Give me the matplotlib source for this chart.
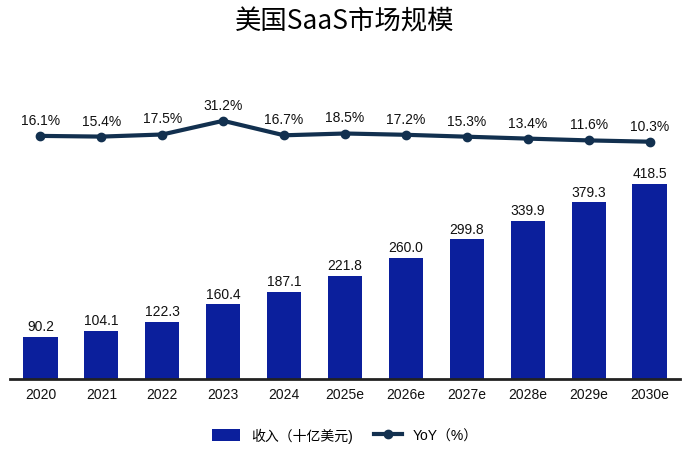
import matplotlib
matplotlib.use('Agg')
import matplotlib.pyplot as plt
import numpy as np

plt.rcParams['font.family'] = ['Liberation Sans', 'Noto Sans CJK SC', 'DejaVu Sans']

years = ['2020', '2021', '2022', '2023', '2024', '2025e', '2026e',
         '2027e', '2028e', '2029e', '2030e']
revenue = [90.2, 104.1, 122.3, 160.4, 187.1, 221.8, 260.0, 299.8, 339.9, 379.3, 418.5]
yoy = [16.1, 15.4, 17.5, 31.2, 16.7, 18.5, 17.2, 15.3, 13.4, 11.6, 10.3]

bar_color = '#0B1F9C'
line_color = '#12304F'

fig = plt.figure(figsize=(6.9, 4.56), dpi=100)
ax = fig.add_axes([10/690, 1 - 380/456, 670/690, 280/456])
x = np.arange(len(years))

bars = ax.bar(x, revenue, width=0.56, color=bar_color, label='收入（十亿美元)', zorder=2)
for xi, v in zip(x, revenue):
    ax.text(xi, v + 8, f'{v:.1f}', ha='center', va='bottom', fontsize=10, color='#111111')

ax.set_xlim(-0.5, len(years) - 0.5)
ax.set_ylim(0, 601)
ax.set_xticks(x)
ax.set_xticklabels(years, fontsize=10, color='#111111')
ax.tick_params(axis='x', length=0, pad=6)
ax.set_yticks([])
for s in ['top', 'right', 'left']:
    ax.spines[s].set_visible(False)
ax.spines['bottom'].set_color('#222222')
ax.spines['bottom'].set_linewidth(2)

ax2 = ax.twinx()
line, = ax2.plot(x, yoy, color=line_color, linewidth=3, marker='o', markersize=6,
                 label='YoY（%）', zorder=3)
for xi, v in zip(x, yoy):
    ax2.text(xi, v + 9, f'{v:.1f}%', ha='center', va='bottom', fontsize=10, color='#111111')
ax2.set_ylim(-227, 53)
ax2.set_yticks([])
for s in ['top', 'right', 'left', 'bottom']:
    ax2.spines[s].set_visible(False)

fig.suptitle('美国SaaS市场规模', y=1 - 22/456, va='center', fontsize=19,
             family=['Noto Sans CJK SC', 'DejaVu Sans'])

fig.legend([bars, line], ['收入（十亿美元)', 'YoY（%）'], loc='center',
           bbox_to_anchor=(345/690, 1 - 436/456), ncol=2, frameon=False,
           fontsize=10, handlelength=2.0, handleheight=1.0, columnspacing=1.5)

fig.savefig('out.png', dpi=100)
